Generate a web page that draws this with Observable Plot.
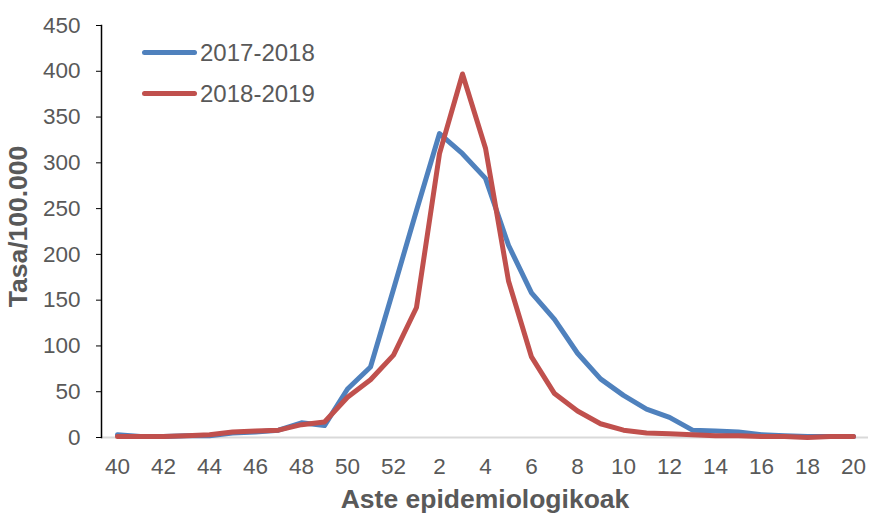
<!DOCTYPE html>
<html>
<head>
<meta charset="utf-8">
<script src="https://cdn.jsdelivr.net/npm/d3@7"></script>
<script src="https://cdn.jsdelivr.net/npm/@observablehq/plot@0.6"></script>
<style>
  body { margin: 0; background: #fff; }
  #chart { position: relative; width: 872px; height: 514px; font-family: "Liberation Sans", Arial, sans-serif; }
  #chart svg { display: block; }
  .legend { position: absolute; left: 142px; top: 32px; color: #595959; font-size: 24px; line-height: 41px; }
  .legend div { display: flex; align-items: center; }
  .legend span.sw { display: inline-block; width: 55px; height: 5px; border-radius: 3px; margin-right: 3px; }
</style>
</head>
<body>
<div id="chart"></div>
<script>
// Epidemiological weeks, from week 40 to week 20 of the following year
const weeks = ["40","41","42","43","44","45","46","47","48","49","50","51","52",
  "1","2","3","4","5","6","7","8","9","10","11","12","13","14","15","16","17","18","19","20"];

// Rate per 100,000 for each season
const season2017 = [3, 1, 1, 2, 2, 5, 6, 8, 16, 13, 53, 77, 162,
  248, 332, 310, 283, 210, 158, 129, 92, 64, 46, 31, 22, 8, 7, 6, 3, 2, 1, 1, 1];
const season2018 = [1, 1, 1, 2, 3, 6, 7, 8, 14, 17, 44, 63, 90,
  142, 310, 397, 316, 171, 88, 48, 29, 15, 8, 5, 4, 3, 2, 2, 1, 1, 0, 1, 1];

const seasons = ["2017-2018", "2018-2019"];
const seasonColors = ["#4f81bd", "#c0504d"];
const yTicks = [0, 50, 100, 150, 200, 250, 300, 350, 400, 450];
const xTicks = weeks.filter((d, i) => i % 2 === 0);

const rows = [
  ...weeks.map((w, i) => ({week: w, rate: season2017[i], season: seasons[0]})),
  ...weeks.map((w, i) => ({week: w, rate: season2018[i], season: seasons[1]}))
];

const plot = Plot.plot({
  width: 872,
  height: 514,
  marginLeft: 101,
  marginRight: 4,
  marginTop: 25,
  marginBottom: 77,
  style: {fontFamily: "'Liberation Sans', Arial, sans-serif", fontSize: "22.5px", background: "#fff"},
  x: {type: "point", domain: weeks, range: [115, 855], padding: 0},
  y: {domain: [0, 450]},
  color: {domain: seasons, range: seasonColors},
  marks: [
    Plot.ruleY([0], {stroke: "#d9d9d9", strokeWidth: 2}),
    Plot.axisX({ticks: xTicks, tickSize: 0, tickPadding: 21, label: null, fill: "#595959"}),
    Plot.axisY({ticks: yTicks, tickSize: 5, tickPadding: 16, label: null,
      stroke: "#000", fill: "#595959"}),
    Plot.text(["Aste epidemiologikoak"], {frameAnchor: "bottom", dy: 70, fill: "#595959",
      fontWeight: "bold", fontSize: 26.5}),
    Plot.text(["Tasa/100.000"], {frameAnchor: "left", rotate: -90, textAnchor: "middle",
      dx: -83, dy: -5, fill: "#595959", fontWeight: "bold", fontSize: 26.5}),
    Plot.frame({anchor: "left", stroke: "#000", strokeWidth: 1.5}),
    Plot.line(rows, {x: "week", y: "rate", z: "season", stroke: "season",
      strokeWidth: 5, strokeLinejoin: "round", strokeLinecap: "round"})
  ]
});

const chart = document.getElementById("chart");
chart.appendChild(plot);

const legend = document.createElement("div");
legend.className = "legend";
seasons.forEach((s, i) => {
  const item = document.createElement("div");
  const sw = document.createElement("span");
  sw.className = "sw";
  sw.style.background = seasonColors[i];
  item.appendChild(sw);
  item.appendChild(document.createTextNode(s));
  legend.appendChild(item);
});
chart.appendChild(legend);
</script>
</body>
</html>
